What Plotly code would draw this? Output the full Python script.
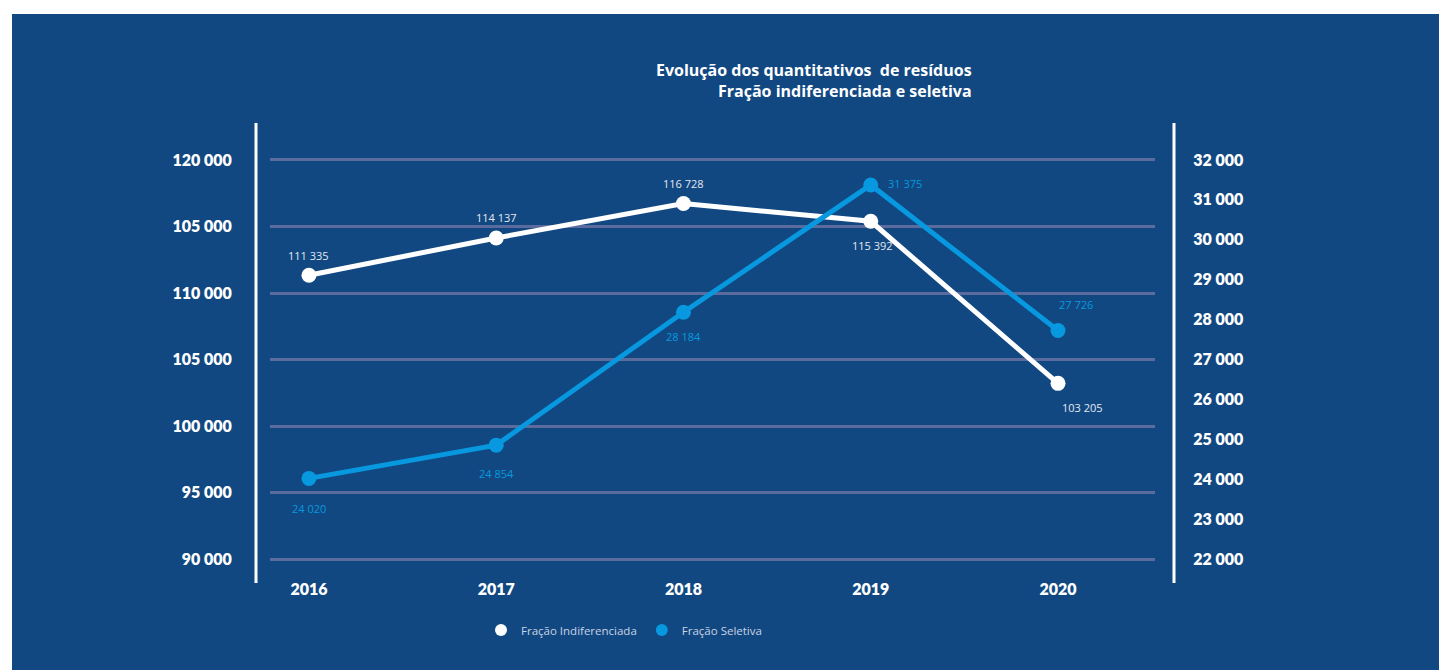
import plotly.graph_objects as go

# --- data -------------------------------------------------------------
years = ["2016", "2017", "2018", "2019", "2020"]
indiferenciada = [111335, 114137, 116728, 115392, 103205]
seletiva = [24020, 24854, 28184, 31375, 27726]

left_tickvals = [90000, 95000, 100000, 105000, 110000, 115000, 120000]
left_ticktext = ["90 000", "95 000", "100 000", "105 000", "110 000", "105 000", "120 000"]
right_tickvals = list(range(22000, 32001, 1000))
right_ticktext = ["22 000", "23 000", "24 000", "25 000", "26 000", "27 000",
                  "28 000", "29 000", "30 000", "31 000", "32 000"]

title_lines = ["Evolução dos quantitativos  de resíduos", "Fração indiferenciada e seletiva"]
names = ["Fração Indiferenciada", "Fração Seletiva"]

# --- styling ----------------------------------------------------------
BG = "#114881"
WHITE = "#FFFFFF"
BLUE = "#0798DF"
GRID = "#5B6B9D"
FONT = "Lato"
FONT_WIDE = "Open Sans"

W, H = 1439, 670
L, R, T, B = 270, 284, 156, 107
PW, PH = W - L - R, H - T - B


def px_x(px):
    return (px - L) / PW


def px_y(py):
    return (H - B - py) / PH


def fmt(v):
    return f"{v:,}".replace(",", " ")


fig = go.Figure()

xi = list(range(len(years)))

fig.add_trace(go.Scatter(
    x=xi, y=indiferenciada, mode="lines+markers", yaxis="y",
    line=dict(color=WHITE, width=5), marker=dict(color=WHITE, size=15),
    showlegend=False, hoverinfo="skip"))
fig.add_trace(go.Scatter(
    x=xi, y=seletiva, mode="lines+markers", yaxis="y2",
    line=dict(color=BLUE, width=5), marker=dict(color=BLUE, size=15),
    showlegend=False, hoverinfo="skip"))

# legend entries shown as plain dots
for nm, col in zip(names, [WHITE, BLUE]):
    fig.add_trace(go.Scatter(x=[None], y=[None], mode="markers", name=nm,
                             marker=dict(color=col, size=12), yaxis="y"))

# value labels next to the points
white_offsets = [(0, 20), (0, 20), (0, 20), (2, -24), (24, -24)]
blue_offsets = [(0, -30), (0, -28), (0, -24), (34, 1), (18, 26)]
annotations = []
for i, v, (dx, dy) in zip(xi, indiferenciada, white_offsets):
    annotations.append(dict(x=i, y=v, xref="x", yref="y", text=fmt(v),
                            showarrow=False, xshift=dx, yshift=dy,
                            font=dict(family=FONT_WIDE, size=11, color="#E4E9F2")))
for i, v, (dx, dy) in zip(xi, seletiva, blue_offsets):
    annotations.append(dict(x=i, y=v, xref="x", yref="y2", text=fmt(v),
                            showarrow=False, xshift=dx, yshift=dy,
                            font=dict(family=FONT_WIDE, size=11, color=BLUE)))

# two-line title, right aligned
annotations.append(dict(
    x=px_x(974), y=px_y(80), xref="paper", yref="paper",
    xanchor="right", yanchor="middle", align="right", showarrow=False,
    text="<br>".join(f"<b>{t}</b>" for t in title_lines),
    font=dict(family=FONT_WIDE, size=16, color=WHITE)))

shapes = [
    # vertical white rules on both sides of the plot
    dict(type="line", xref="paper", yref="paper", x0=px_x(256), x1=px_x(256),
         y0=px_y(123), y1=px_y(583), line=dict(color=WHITE, width=3)),
    dict(type="line", xref="paper", yref="paper", x0=px_x(1174), x1=px_x(1174),
         y0=px_y(123), y1=px_y(583), line=dict(color=WHITE, width=3)),
    # white page border at top and left
    dict(type="rect", xref="paper", yref="paper", x0=px_x(0), x1=px_x(W),
         y0=px_y(14), y1=px_y(0), fillcolor=WHITE, line=dict(width=0)),
    dict(type="rect", xref="paper", yref="paper", x0=px_x(0), x1=px_x(12),
         y0=px_y(H), y1=px_y(0), fillcolor=WHITE, line=dict(width=0)),
]

tickfont = dict(family=FONT, size=16, color=WHITE, weight=800)

fig.update_layout(
    width=W, height=H,
    margin=dict(l=L, r=R, t=T, b=B, pad=0),
    paper_bgcolor=BG, plot_bgcolor=BG,
    xaxis=dict(range=[-0.208, 4.518], tickvals=xi, ticktext=years,
               showgrid=False, zeroline=False, showline=False,
               ticks="outside", ticklen=12, tickcolor="rgba(0,0,0,0)",
               tickfont=tickfont),
    yaxis=dict(range=[89700, 120300], tickvals=left_tickvals,
               ticktext=left_ticktext, showgrid=True, gridcolor=GRID,
               gridwidth=3, zeroline=False, showline=False, ticks="outside",
               ticklen=34, tickcolor="rgba(0,0,0,0)", tickfont=tickfont),
    yaxis2=dict(range=[21900, 32100], tickvals=right_tickvals,
                ticktext=right_ticktext, overlaying="y", side="right",
                showgrid=False, zeroline=False, showline=False,
                ticks="outside", ticklen=34, tickcolor="rgba(0,0,0,0)",
                tickfont=tickfont),
    legend=dict(orientation="h", x=px_x(624), y=px_y(630), xanchor="center",
                yanchor="middle", bgcolor="rgba(0,0,0,0)",
                font=dict(family=FONT_WIDE, size=11.5, color="#C9D2E3"),
                itemwidth=30, tracegroupgap=0),
    annotations=annotations,
    shapes=shapes,
)

fig.write_html("out.html")
